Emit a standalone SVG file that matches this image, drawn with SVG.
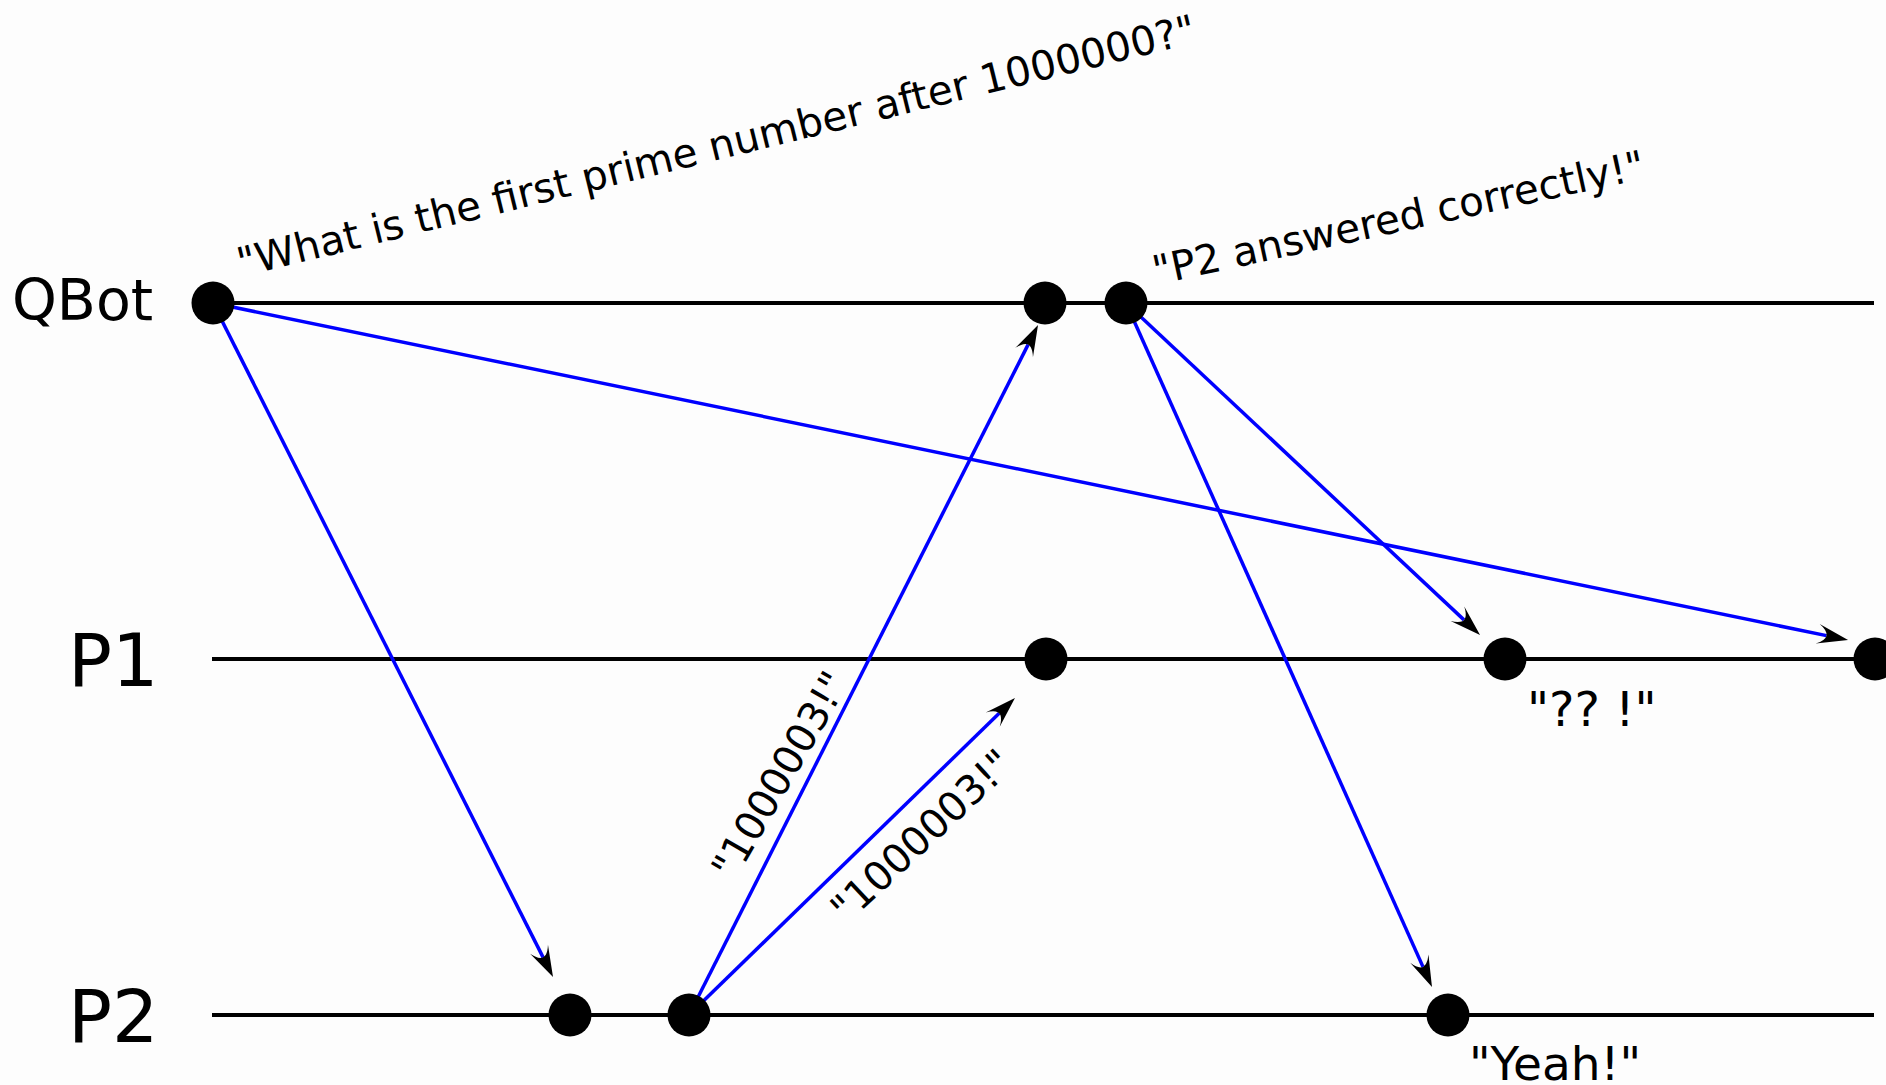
<svg xmlns="http://www.w3.org/2000/svg" width="1886" height="1085" viewBox="0 0 1886 1085">
<style>
text{font-family:"DejaVu Sans","Liberation Sans",sans-serif;fill:#000}
.tl{stroke:#000;stroke-width:4;fill:none}
.msg{stroke:#0000ff;stroke-width:3.5;fill:none;marker-end:url(#ah)}
.dot{fill:#000}
.lbl{font-size:40px}
</style>
<defs>
<marker id="ah" markerUnits="userSpaceOnUse" viewBox="-10 -11 33 22" refX="0" refY="0" markerWidth="33" markerHeight="22" orient="auto" overflow="visible">
<path d="M22,0 L-9,-10 Q9,0 -9,10 Z" fill="#000"/>
</marker>
</defs>
<rect width="1886" height="1085" fill="#fdfdfd"/>
<g id="timelines">
<line class="tl" x1="213" y1="303" x2="1874" y2="303"/>
<line class="tl" x1="212" y1="659" x2="1874" y2="659"/>
<line class="tl" x1="212" y1="1015" x2="1874" y2="1015"/>
</g>
<g id="connectors">
<path class="msg" d="M213,303 L543.1,957.4"/>
<path class="msg" d="M213,303 L1826.5,635.6"/>
<path class="msg" d="M689,1015 L1028.1,344.6"/>
<path class="msg" d="M689,1015 L999.2,713.3"/>
<path class="msg" d="M1126,303 L1464,619.9"/>
<path class="msg" d="M1126,303 L1423,966.9"/>
</g>
<g id="qbot"><text x="12" y="320" font-size="57">QBot</text></g>
<g id="p1"><text x="68" y="686" font-size="73">P1</text></g>
<g id="p2"><text x="68" y="1042" font-size="73">P2</text></g>
<g id="qbot-ask"><circle class="dot" cx="213" cy="303" r="21.5"/></g>
<g id="qbot-recv"><circle class="dot" cx="1045" cy="303" r="21.5"/></g>
<g id="qbot-announce"><circle class="dot" cx="1126" cy="303" r="21.5"/></g>
<g id="p1-recv"><circle class="dot" cx="1046" cy="659" r="21.5"/></g>
<g id="p1-announce"><circle class="dot" cx="1505" cy="659" r="21.5"/></g>
<g id="p1-question"><circle class="dot" cx="1875" cy="659" r="21.5"/></g>
<g id="p2-question"><circle class="dot" cx="570" cy="1015" r="21.5"/></g>
<g id="p2-answer"><circle class="dot" cx="689" cy="1015" r="21.5"/></g>
<g id="p2-announce"><circle class="dot" cx="1448" cy="1015" r="21.5"/></g>
<g id="labels">
<text x="241" y="277" font-size="40.5" transform="rotate(-13.8 241 277)">"What is the first prime number after 1000000?"</text>
<text x="1156" y="285" font-size="40.5" transform="rotate(-12.3 1156 285)">"P2 answered correctly!"</text>
<text class="lbl" x="792" y="782" text-anchor="middle" transform="rotate(-60 792 782)">"1000003!"</text>
<text class="lbl" x="931" y="846" text-anchor="middle" transform="rotate(-43.1 931 846)">"1000003!"</text>
<text x="1527" y="726" font-size="48">"?? !"</text>
<text x="1469" y="1080" font-size="47">"Yeah!"</text>
</g>
</svg>
